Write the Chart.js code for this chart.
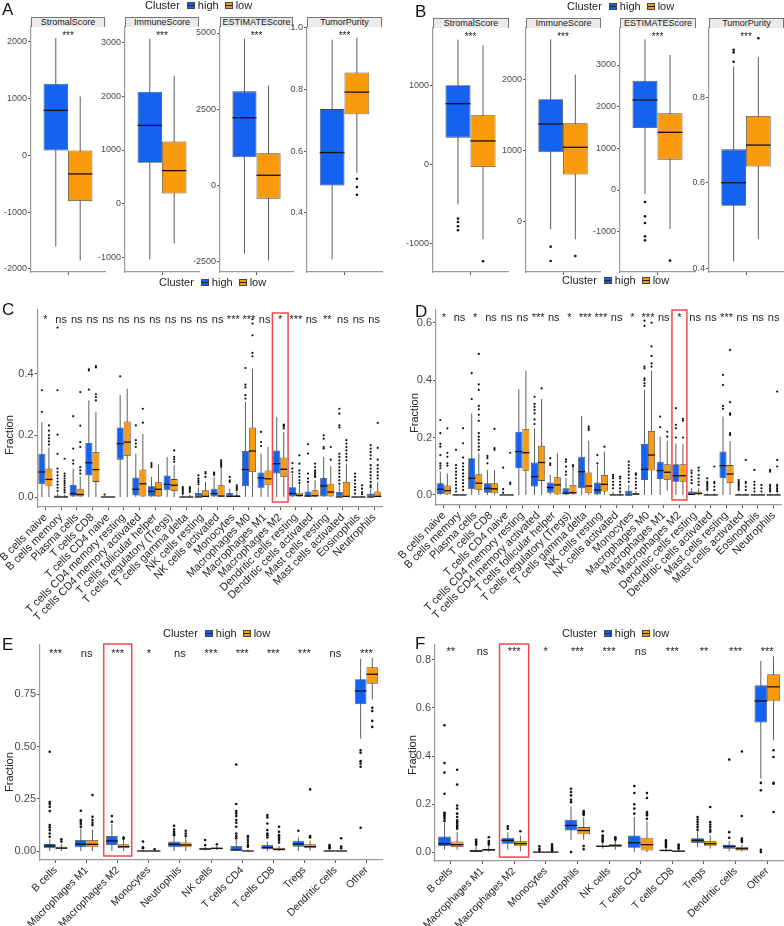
<!DOCTYPE html>
<html>
<head>
<meta charset="utf-8">
<script src="https://cdn.jsdelivr.net/npm/chart.js@4.4.1/dist/chart.umd.min.js"></script>
<style>
  body { margin: 0; width: 784px; height: 926px; position: relative; overflow: hidden; background: #fff;
         font-family: 'Liberation Sans', Arial, sans-serif; }
  canvas { position: absolute; }
  .tag { position: absolute; font-size: 17px; line-height: 17px; color: #111; }
  .legend { position: absolute; font-size: 11px; line-height: 12px; color: #222; display: flex; align-items: center; white-space: nowrap; }
  .key { display: inline-block; width: 6px; height: 5px; border: 1px solid #444; margin-right: 3px; }
  .strip { position: absolute; height: 10px; background: #ebebeb; border: 1px solid #777; border-bottom: none;
           box-sizing: border-box; font-size: 9px; line-height: 9px; text-align: center; color: #1a1a1a; }
  .ytitle { position: absolute; font-size: 11px; color: #222; white-space: nowrap; transform: translate(-50%, -50%) rotate(-90deg); }
</style>
</head>
<body>
<script>
// ---- data: each stats row is [min, q1, median, q3, max] ----

// panel A (ESTIMATE, cohort 1)
const aScores = ['StromalScore', 'ImmuneScore', 'ESTIMATEScore', 'TumorPurity'];
const aHigh = [[-1605, 90, 795, 1265, 2070], [-1045, 760, 1460, 2090, 3080], [-2225, 930, 2225, 3090, 4815], [0.25, 0.489, 0.596, 0.737, 0.962]];
const aLow = [[-1850, -805, -325, 90, 1040], [-745, 185, 615, 1160, 2385], [-2445, -425, 340, 1060, 3285], [0.53, 0.72, 0.792, 0.856, 0.968]];
const aHighOut = [[], [], [], []];
const aLowOut = [[], [], [], [0.511, 0.484, 0.459]];
const aSig = ['***', '***', '***', '***'];
const aTicks = [[-2000, -1000, 0, 1000, 2000], [-1000, 0, 1000, 2000, 3000], [-2500, 0, 2500, 5000], [0.4, 0.6, 0.8, 1.0]];

// panel B (ESTIMATE, cohort 2)
const bScores = ['StromalScore', 'ImmuneScore', 'ESTIMATEScore', 'TumorPurity'];
const bHigh = [[-505, 343, 775, 1010, 1590], [-103, 977, 1374, 1720, 2561], [-96, 1488, 2160, 2624, 3616], [0.416, 0.546, 0.600, 0.678, 0.872]];
const bLow = [[-949, -30, 301, 627, 1517], [-243, 664, 1047, 1383, 2065], [-936, 728, 1384, 1840, 3240], [0.468, 0.638, 0.688, 0.756, 0.894]];
const bHighOut = [[-686, -729, -784, -835], [-346, -547], [-288, -632, -792, -1112, -1208], [0.911, 0.905, 0.883]];
const bLowOut = [[-1229], [-477], [-1696], [0.938]];
const bSig = ['***', '***', '***', '***'];
const bTicks = [[-1000, 0, 1000], [0, 1000, 2000], [-1000, 0, 1000, 2000, 3000], [0.4, 0.6, 0.8]];

// panels C and D (CIBERSORT, 22 cell types)
const cells22 = ['B cells naive', 'B cells memory', 'Plasma cells', 'T cells CD8', 'T cells CD4 naive',
  'T cells CD4 memory resting', 'T cells CD4 memory activated', 'T cells follicular helper',
  'T cells regulatory (Tregs)', 'T cells gamma delta', 'NK cells resting', 'NK cells activated', 'Monocytes',
  'Macrophages M0', 'Macrophages M1', 'Macrophages M2', 'Dendritic cells resting', 'Dendritic cells activated',
  'Mast cells resting', 'Mast cells activated', 'Eosinophils', 'Neutrophils'];
const fracTicks = [0, 0.2, 0.4, 0.6];

const cHigh = [[0, 0.041, 0.081, 0.14, 0.243], [0, 0, 0, 0.005, 0.012], [0, 0, 0.011, 0.04, 0.092], [0, 0.07, 0.111, 0.175, 0.313],
  [0, 0, 0, 0, 0], [0, 0.121, 0.173, 0.225, 0.33], [0, 0.005, 0.025, 0.063, 0.14], [0, 0, 0.018, 0.035, 0.065],
  [0, 0.022, 0.041, 0.07, 0.13], [0, 0, 0, 0.002, 0.008], [0, 0, 0, 0.013, 0.032], [0, 0, 0.011, 0.027, 0.065],
  [0, 0, 0.002, 0.013, 0.027], [0, 0.035, 0.089, 0.149, 0.308], [0, 0.03, 0.062, 0.079, 0.14], [0, 0.076, 0.108, 0.151, 0.259],
  [0, 0, 0.011, 0.032, 0.075], [0, 0, 0.003, 0.018, 0.043], [0, 0, 0.036, 0.062, 0.13], [0, 0, 0, 0.016, 0.038],
  [0, 0, 0, 0, 0.002], [0, 0, 0, 0.011, 0.027]];
const cLow = [[0, 0.035, 0.057, 0.092, 0.16], [0, 0, 0, 0.003, 0.008], [0, 0.002, 0.008, 0.027, 0.065], [0, 0.049, 0.089, 0.146, 0.276],
  [0, 0, 0, 0, 0], [0, 0.133, 0.178, 0.245, 0.351], [0, 0, 0.043, 0.089, 0.205], [0, 0.002, 0.025, 0.048, 0.106],
  [0, 0.019, 0.038, 0.058, 0.103], [0, 0, 0, 0.002, 0.008], [0, 0, 0.002, 0.022, 0.049], [0, 0, 0.003, 0.038, 0.092],
  [0, 0, 0.002, 0.006, 0.016], [0, 0.081, 0.149, 0.225, 0.416], [0, 0.038, 0.059, 0.086, 0.162], [0, 0.065, 0.09, 0.128, 0.21],
  [0, 0, 0.005, 0.014, 0.04], [0, 0, 0.004, 0.022, 0.054], [0, 0, 0.016, 0.043, 0.1], [0, 0, 0.002, 0.049, 0.108],
  [0, 0, 0, 0, 0.002], [0, 0, 0.002, 0.018, 0.049]];
const cHighOut = [[0.346, 0.276], [0.549, 0.346, 0.202, 0.14, 0.092, 0.081, 0.07, 0.06, 0.05, 0.04, 0.03, 0.02],
  [0.262, 0.157, 0.119, 0.108], [0.414, 0.41, 0.348], [0.008], [0.391], [0.232, 0.184, 0.173, 0.162], [0.11, 0.103, 0.097],
  [], [0.032, 0.027, 0.022, 0.016, 0.011], [0.07, 0.06, 0.054, 0.048, 0.041], [0.079, 0.076, 0.072],
  [0.065, 0.054, 0.049], [0.418, 0.364, 0.355, 0.33, 0.319], [0.211, 0.178, 0.165], [],
  [0.11, 0.092, 0.081], [0.171, 0.141, 0.076, 0.06, 0.049], [0.2, 0.189, 0.162, 0.157],
  [0.286, 0.27, 0.232, 0.225, 0.14, 0.13, 0.119, 0.108, 0.097, 0.086, 0.076, 0.065, 0.054, 0.043],
  [0.076, 0.065, 0.054, 0.043, 0.032, 0.022, 0.011],
  [0.168, 0.157, 0.146, 0.135, 0.124, 0.103, 0.092, 0.081, 0.07, 0.06, 0.049, 0.038, 0.032]];
const cLowOut = [[0.232, 0.215, 0.2, 0.19, 0.18, 0.17], [0.124, 0.076, 0.068, 0.06, 0.052, 0.045, 0.038, 0.03, 0.022, 0.015],
  [0.34, 0.231, 0.178, 0.162, 0.097, 0.086, 0.076], [0.424, 0.42, 0.333, 0.324, 0.313], [], [], [0.286, 0.241], [],
  [0.151, 0.13, 0.122, 0.114], [0.032, 0.027, 0.022, 0.016], [0.081, 0.076, 0.065], [0.119, 0.113, 0.108, 0.103, 0.097],
  [0.038, 0.032, 0.027, 0.022], [0.576, 0.562, 0.524, 0.467, 0.456], [], [0.235, 0.232, 0.228, 0.222],
  [0.135, 0.108, 0.086, 0.076, 0.065, 0.054, 0.045], [0.108, 0.097, 0.086, 0.081, 0.076, 0.07, 0.065],
  [0.162, 0.121], [0.184, 0.173, 0.162, 0.151, 0.14, 0.13, 0.119], [0.038, 0.027, 0.016, 0.009],
  [0.24, 0.159, 0.121, 0.103, 0.092, 0.081, 0.07, 0.06]];
const cSig = ['*', 'ns', 'ns', 'ns', 'ns', 'ns', 'ns', 'ns', 'ns', 'ns', 'ns', 'ns', '***', '***', 'ns', '*', '***', 'ns', '**', 'ns', 'ns', 'ns'];

const dHigh = [[0, 0.003, 0.02, 0.041, 0.081], [0, 0, 0, 0, 0.003], [0, 0.02, 0.058, 0.128, 0.284], [0, 0.008, 0.023, 0.041, 0.087],
  [0, 0, 0, 0, 0], [0, 0.093, 0.151, 0.22, 0.368], [0, 0.029, 0.064, 0.113, 0.232], [0, 0.008, 0.026, 0.043, 0.07],
  [0, 0, 0.006, 0.023, 0.058], [0, 0.023, 0.081, 0.133, 0.275], [0, 0, 0.017, 0.043, 0.104], [0, 0, 0, 0, 0.012],
  [0, 0, 0, 0.015, 0.035], [0, 0.052, 0.089, 0.178, 0.366], [0, 0.055, 0.085, 0.116, 0.203], [0, 0.046, 0.067, 0.107, 0.18],
  [0, 0, 0.002, 0.012, 0.023], [0, 0, 0, 0, 0.005], [0, 0.058, 0.102, 0.151, 0.273], [0, 0, 0, 0, 0.005],
  [0, 0, 0, 0, 0.004], [0, 0, 0, 0, 0.005]];
const dLow = [[0, 0, 0.015, 0.033, 0.075], [0, 0, 0, 0, 0.003], [0, 0.017, 0.041, 0.072, 0.145], [0, 0.006, 0.021, 0.041, 0.087],
  [0, 0, 0, 0, 0], [0, 0.084, 0.147, 0.23, 0.433], [0, 0.049, 0.113, 0.171, 0.334], [0, 0, 0.035, 0.062, 0.145],
  [0, 0.002, 0.008, 0.035, 0.095], [0, 0.006, 0.031, 0.078, 0.189], [0, 0.012, 0.037, 0.07, 0.151], [0, 0, 0, 0, 0.01],
  [0, 0, 0.003, 0.006, 0.014], [0, 0.085, 0.139, 0.223, 0.433], [0.015, 0.052, 0.079, 0.107, 0.189], [0, 0.046, 0.067, 0.107, 0.178],
  [0, 0.002, 0.005, 0.012, 0.023], [0, 0, 0, 0, 0.005], [0, 0.041, 0.073, 0.104, 0.188], [0, 0, 0, 0, 0.005],
  [0, 0, 0, 0, 0.004], [0, 0, 0, 0, 0.005]];
const dHighOut = [[0.261, 0.215, 0.178, 0.168, 0.139, 0.11, 0.102, 0.093], [0.157, 0.104, 0.093, 0.081, 0.07, 0.058, 0.046, 0.035, 0.023, 0.012],
  [0.424, 0.334], [0.136, 0.128, 0.11], [0.095, 0.02, 0.008], [], [0.342, 0.317, 0.307, 0.296, 0.284, 0.263, 0.247],
  [0.128, 0.11, 0.104], [0.124, 0.116, 0.099, 0.081, 0.07], [], [0.139, 0.11], [0.07, 0.064, 0.058, 0.046, 0.035, 0.023],
  [0.116, 0.104, 0.093, 0.081, 0.07, 0.058, 0.046], [0.607, 0.589, 0.447, 0.441, 0.406, 0.4, 0.389, 0.38], [0.273, 0.236],
  [0.302, 0.244, 0.232, 0.2], [0.085, 0.076, 0.064, 0.052, 0.041], [0.058, 0.046, 0.041, 0.035, 0.029, 0.023, 0.017],
  [0.418, 0.383, 0.31, 0.3], [0.052, 0.046, 0.041, 0.035, 0.029, 0.023, 0.017], [0.087, 0.046, 0.035, 0.023, 0.012],
  [0.087, 0.081, 0.035, 0.029, 0.023, 0.017, 0.012]];
const dLowOut = [[0.232, 0.147, 0.133, 0.11, 0.102], [0.232, 0.18, 0.13, 0.11, 0.099, 0.087, 0.075, 0.064, 0.052, 0.041, 0.029, 0.017],
  [0.491, 0.385, 0.366, 0.31, 0.298, 0.279, 0.258, 0.215, 0.203, 0.192, 0.18, 0.168, 0.157], [0.23, 0.163, 0.157],
  [0.147, 0.043, 0.038], [], [0.371], [], [0.104, 0.099], [0.238, 0.232, 0.226], [0.168], [0.064, 0.058, 0.046, 0.035, 0.023, 0.012],
  [0.075, 0.07, 0.058, 0.046, 0.035, 0.023], [0.6, 0.517, 0.484, 0.458, 0.447], [0.22, 0.203], [0.265, 0.259, 0.2],
  [0.095, 0.085, 0.07, 0.058, 0.046, 0.035], [0.099, 0.046, 0.041, 0.029, 0.017], [0.505, 0.323, 0.284, 0.279, 0.215, 0.209],
  [0.122, 0.046, 0.041, 0.029, 0.017], [0.035, 0.023, 0.012], [0.36, 0.122, 0.099, 0.035, 0.029, 0.023, 0.017, 0.012]];
const dSig = ['*', 'ns', '*', 'ns', 'ns', 'ns', '***', 'ns', '*', '***', '***', 'ns', '*', '***', 'ns', '*', 'ns', 'ns', '***', 'ns', 'ns', 'ns'];

// panels E and F (11 cell groups)
const cells11 = ['B cells', 'Macrophages M1', 'Macrophages M2', 'Monocytes', 'Neutrophils', 'NK cells',
  'T cells CD4', 'T cells CD8', 'Tregs', 'Dendritic cells', 'Other'];
const eTicks = [0, 0.25, 0.5, 0.75];
const fTicks = [0, 0.2, 0.4, 0.6, 0.8];

const eHigh = [[0, 0.013, 0.024, 0.033, 0.056], [0, 0.018, 0.033, 0.053, 0.108], [0, 0.029, 0.048, 0.072, 0.129], [0, 0, 0, 0, 0.004],
  [0, 0.018, 0.032, 0.045, 0.068], [0.002, 0.006, 0.01, 0.013, 0.021], [0, 0, 0.005, 0.024, 0.053], [0, 0.008, 0.016, 0.029, 0.045],
  [0, 0.021, 0.033, 0.049, 0.065], [0, 0, 0, 0.002, 0.008], [0.538, 0.702, 0.766, 0.822, 0.92]];
const eLow = [[0, 0.008, 0.014, 0.021, 0.033], [0, 0.018, 0.032, 0.053, 0.103], [0, 0.013, 0.021, 0.032, 0.053], [0, 0, 0, 0, 0.002],
  [0, 0.018, 0.029, 0.041, 0.065], [0.004, 0.008, 0.013, 0.016, 0.024], [0, 0, 0, 0.002, 0.008], [0, 0.003, 0.008, 0.016, 0.024],
  [0, 0.013, 0.021, 0.032, 0.049], [0, 0, 0, 0, 0.004], [0.725, 0.801, 0.846, 0.88, 0.925]];
const eHighOut = [[0.475, 0.234, 0.225, 0.212, 0.191, 0.124, 0.113, 0.1, 0.084, 0.068], [0.193, 0.148, 0.14, 0.129, 0.116],
  [0.167, 0.14], [0.045, 0.018, 0.013], [0.121, 0.103, 0.092, 0.084, 0.076], [0.053, 0.029],
  [0.414, 0.225, 0.191, 0.18, 0.167, 0.148, 0.135, 0.116, 0.084, 0.072, 0.061], [0.172, 0.161, 0.132, 0.1, 0.084, 0.076, 0.065],
  [0.097], [0.029, 0.021, 0.016, 0.013], [0.482, 0.47, 0.43, 0.419, 0.403, 0.111]];
const eLowOut = [[0.056, 0.045], [0.268, 0.164, 0.148, 0.135, 0.124], [0.065, 0.059], [0.008], [0.097, 0.084, 0.072],
  [0.032], [0.072, 0.065, 0.053, 0.041, 0.029, 0.021], [0.116, 0.092, 0.076, 0.068, 0.06, 0.053, 0.041],
  [0.295, 0.072, 0.065], [0.061, 0.021, 0.013], [0.686, 0.67, 0.623, 0.594]];
const eSig = ['***', 'ns', '***', '*', 'ns', '***', '***', '***', '***', 'ns', '***'];

const fHigh = [[0.01, 0.025, 0.035, 0.065, 0.121], [0, 0.002, 0.004, 0.01, 0.024], [0.01, 0.035, 0.049, 0.06, 0.083], [0, 0, 0, 0, 0.004],
  [0.051, 0.09, 0.111, 0.135, 0.19], [0.014, 0.021, 0.024, 0.028, 0.035], [0, 0.018, 0.039, 0.069, 0.146], [0.002, 0.004, 0.007, 0.01, 0.017],
  [0.021, 0.038, 0.049, 0.058, 0.087], [0.004, 0.014, 0.024, 0.031, 0.046], [0.306, 0.539, 0.629, 0.694, 0.796]];
const fLow = [[0.01, 0.021, 0.031, 0.044, 0.083], [0.002, 0.006, 0.01, 0.014, 0.028], [0.004, 0.024, 0.035, 0.046, 0.069], [0, 0, 0, 0, 0.004],
  [0.051, 0.074, 0.09, 0.104, 0.145], [0.01, 0.021, 0.028, 0.032, 0.046], [0, 0.007, 0.031, 0.06, 0.129], [0, 0.003, 0.004, 0.006, 0.011],
  [0.014, 0.024, 0.035, 0.046, 0.069], [0.002, 0.007, 0.014, 0.021, 0.032], [0.465, 0.628, 0.688, 0.74, 0.815]];
const fHighOut = [[0.528, 0.371, 0.331, 0.243, 0.164, 0.16, 0.153, 0.146, 0.139, 0.129], [0.051, 0.044, 0.038, 0.031],
  [0.107, 0.097], [0.024, 0.014, 0.007], [0.264, 0.25, 0.236, 0.218, 0.208, 0], [0.087, 0.069, 0.063, 0.056, 0.049, 0.042],
  [0.275, 0.246, 0.199, 0.181, 0.16], [0.049, 0.042, 0.035, 0.028, 0.021], [0.146, 0.136, 0.125, 0.115, 0.104, 0.093],
  [0.385, 0.083, 0.06], [0.288, 0.257, 0.01, 0]];
const fLowOut = [[0.343, 0.281, 0.194, 0.181, 0.16, 0.146, 0.132, 0.125, 0.118, 0.111, 0.104, 0.097], [0.062, 0.046, 0.039, 0.032],
  [0.087], [0.032, 0.025, 0.018, 0.014, 0.01, 0.007], [0.171, 0.165, 0.16, 0.155, 0.025, 0.012], [0.062, 0.057, 0.051],
  [0.246, 0.225, 0.167, 0.16, 0.153, 0.139], [0.031, 0.025, 0.018, 0.014], [0.188, 0.125, 0.115, 0.104, 0.093, 0.085],
  [0.419, 0.15, 0.056, 0.049, 0.042], [0.424, 0.396, 0.288, 0.285, 0.167]];
const fSig = ['**', 'ns', '***', '*', '***', '***', 'ns', '***', '**', '***', '***'];

// ---- drawing ----
const BLUE = '#1363f0';
const ORANGE = '#f89a0c';
Chart.defaults.font.family = "'Liberation Sans', Arial, sans-serif";

// whiskers, medians, outliers, significance marks and the red highlight
const boxParts = {
  id: 'boxParts',
  beforeDatasetsDraw(chart) {
    const ctx = chart.ctx, y = chart.scales.y;
    ctx.save();
    ctx.strokeStyle = '#5e5e5e';
    ctx.lineWidth = 1;
    chart.data.datasets.forEach((ds, d) => {
      chart.getDatasetMeta(d).data.forEach((bar, i) => {
        const s = ds.stats[i];
        ctx.beginPath();
        ctx.moveTo(bar.x, y.getPixelForValue(s[0]));
        ctx.lineTo(bar.x, y.getPixelForValue(s[4]));
        ctx.stroke();
      });
    });
    ctx.restore();
  },
  afterDatasetsDraw(chart, args, opts) {
    const ctx = chart.ctx, x = chart.scales.x, y = chart.scales.y, area = chart.chartArea;
    ctx.save();
    chart.data.datasets.forEach((ds, d) => {
      chart.getDatasetMeta(d).data.forEach((bar, i) => {
        const s = ds.stats[i];
        ctx.strokeStyle = '#111';
        ctx.lineWidth = 1.3;
        ctx.beginPath();
        ctx.moveTo(bar.x - bar.width / 2, y.getPixelForValue(s[2]));
        ctx.lineTo(bar.x + bar.width / 2, y.getPixelForValue(s[2]));
        ctx.stroke();
        ctx.fillStyle = '#111';
        ds.outliers[i].forEach(v => {
          ctx.beginPath();
          ctx.arc(bar.x, y.getPixelForValue(v), opts.r, 0, Math.PI * 2);
          ctx.fill();
        });
      });
    });
    ctx.fillStyle = '#222';
    ctx.font = opts.sigSize + "px 'Liberation Sans', Arial, sans-serif";
    ctx.textAlign = 'center';
    ctx.textBaseline = 'alphabetic';
    opts.sig.forEach((t, i) => ctx.fillText(t, x.getPixelForValue(i), area.top + opts.sigBase));
    if (opts.hl >= 0) {
      const step = chart.data.labels.length > 1 ? x.getPixelForValue(1) - x.getPixelForValue(0) : 0;
      const cx = x.getPixelForValue(opts.hl), hw = step * opts.hlWidth / 2;
      const top = area.top + opts.hlTop, bottom = y.getPixelForValue(0) + 5;
      ctx.strokeStyle = '#f0484b';
      ctx.lineWidth = 1.5;
      ctx.strokeRect(cx - hw, top, hw * 2, bottom - top);
    }
    ctx.restore();
  }
};

function boxChart(o) {
  const canvas = document.createElement('canvas');
  const w = o.yWidth + (o.right - o.left) + o.padRight;
  const h = o.padTop + (o.bottom - o.top) + o.xHeight;
  canvas.width = w;
  canvas.height = h;
  canvas.style.left = (o.left - o.yWidth) + 'px';
  canvas.style.top = (o.top - o.padTop) + 'px';
  document.body.appendChild(canvas);
  const tickFont = o.tickSize || 11;
  return new Chart(canvas, {
    type: 'bar',
    data: {
      labels: o.labels,
      datasets: [
        { label: 'high', data: o.high.map(s => [s[1], s[3]]), stats: o.high, outliers: o.highOut,
          backgroundColor: BLUE, borderColor: '#4a4a4a', borderWidth: 0.8, borderSkipped: false },
        { label: 'low', data: o.low.map(s => [s[1], s[3]]), stats: o.low, outliers: o.lowOut,
          backgroundColor: ORANGE, borderColor: '#4a4a4a', borderWidth: 0.8, borderSkipped: false }
      ]
    },
    options: {
      responsive: false,
      animation: false,
      layout: { padding: { top: o.padTop, right: o.padRight, left: 0, bottom: 0 } },
      datasets: { bar: { categoryPercentage: o.catPct, barPercentage: 1 } },
      plugins: {
        legend: { display: false },
        tooltip: { enabled: false },
        boxParts: { sig: o.sig, sigBase: o.sigBase, sigSize: o.sigSize || 10, hl: o.hl === undefined ? -1 : o.hl,
                    hlWidth: o.hlWidth || 1, hlTop: o.hlTop || 0, r: o.r || 1.3 }
      },
      scales: {
        x: {
          offset: true,
          grid: { offset: false, drawOnChartArea: false, color: '#555', tickLength: 3 },
          border: { color: '#9a9a9a', width: 1.2 },
          ticks: { display: o.showLabels, autoSkip: false, minRotation: 45, maxRotation: 45, padding: 1,
                   color: '#1e1e1e', font: { size: o.xFont || 10 } },
          afterFit: s => { s.height = o.xHeight; }
        },
        y: {
          min: o.yMin,
          max: o.yMax,
          afterBuildTicks: s => { s.ticks = o.ticks.map(v => ({ value: v })); },
          grid: { drawOnChartArea: false, color: '#555', tickLength: 3 },
          border: { color: '#9a9a9a', width: 1.2 },
          ticks: { callback: v => v.toFixed(o.dec), padding: 1, color: '#4a4a4a', font: { size: tickFont } },
          afterFit: s => { s.width = o.yWidth; }
        }
      }
    },
    plugins: [boxParts]
  });
}

function addDiv(cls, text, css) {
  const el = document.createElement('div');
  el.className = cls;
  el.textContent = text;
  Object.assign(el.style, css);
  document.body.appendChild(el);
  return el;
}

function legend(left, cy) {
  const el = addDiv('legend', '', { left: left + 'px', top: (cy - 6) + 'px' });
  const part = (t, mr) => { const s = document.createElement('span'); s.textContent = t; s.style.marginRight = mr + 'px'; el.appendChild(s); };
  const key = c => { const k = document.createElement('span'); k.className = 'key';
    k.style.background = `linear-gradient(${c} 40%, #222 40%, #222 60%, ${c} 60%)`; el.appendChild(k); };
  part('Cluster', 7); key(BLUE); part('high', 6); key(ORANGE); part('low', 0);
}

// panel A and B sub-plots
const aBoxes = [
  { left: 31, right: 105, yWidth: 31, yMin: -2053, yMax: 2264, dec: 0 },
  { left: 125, right: 199, yWidth: 28, yMin: -1280, yMax: 3299, dec: 0 },
  { left: 220, right: 293, yWidth: 28, yMin: -2828, yMax: 5197, dec: 0 },
  { left: 307, right: 382, yWidth: 22, yMin: 0.2086, yMax: 1.0032, dec: 1 }
];
aBoxes.forEach((p, i) => {
  boxChart(Object.assign({ top: 27, bottom: 272, padTop: 9, padRight: 2, xHeight: 8, labels: [''], showLabels: false,
    high: [aHigh[i]], low: [aLow[i]], highOut: [aHighOut[i]], lowOut: [aLowOut[i]], sig: [aSig[i]], sigBase: 12,
    ticks: aTicks[i], catPct: 0.66, tickSize: 9, r: 1.3 }, p));
  addDiv('strip', aScores[i], { left: p.left + 'px', top: '17px', width: (p.right - p.left) + 'px' });
});

const bBoxes = [
  { left: 433, right: 508, yWidth: 40, yMin: -1365, yMax: 1737, dec: 0 },
  { left: 526, right: 600, yWidth: 28, yMin: -701, yMax: 2719, dec: 0 },
  { left: 620, right: 695, yWidth: 40, yMin: -1968, yMax: 3888, dec: 0 },
  { left: 709, right: 783, yWidth: 24, yMin: 0.391, yMax: 0.962, dec: 1 }
];
bBoxes.forEach((p, i) => {
  boxChart(Object.assign({ top: 28, bottom: 272, padTop: 9, padRight: 1, xHeight: 8, labels: [''], showLabels: false,
    high: [bHigh[i]], low: [bLow[i]], highOut: [bHighOut[i]], lowOut: [bLowOut[i]], sig: [bSig[i]], sigBase: 12,
    ticks: bTicks[i], catPct: 0.667, tickSize: 9, r: 1.3 }, p));
  addDiv('strip', bScores[i], { left: p.left + 'px', top: '18px', width: (p.right - p.left + 1) + 'px' });
});

// panels C and D
boxChart({ left: 33, right: 382, top: 310, bottom: 507, yWidth: 33, padTop: 8, padRight: 5, xHeight: 118,
  labels: cells22, showLabels: true, xFont: 11, high: cHigh, low: cLow, highOut: cHighOut, lowOut: cLowOut,
  yMin: -0.0324, yMax: 0.606, ticks: fracTicks.slice(0, 3), dec: 1, catPct: 0.9, sig: cSig, sigBase: 13, sigSize: 11,
  hl: 15, hlWidth: 1.0, hlTop: 3, r: 1.1 });
boxChart({ left: 436, right: 783, top: 310, bottom: 505, yWidth: 44, padTop: 8, padRight: 1, xHeight: 118,
  labels: cells22, showLabels: true, xFont: 11, high: dHigh, low: dLow, highOut: dHighOut, lowOut: dLowOut,
  yMin: -0.035, yMax: 0.644, ticks: fracTicks, dec: 1, catPct: 0.9, sig: dSig, sigBase: 11, sigSize: 11,
  hl: 15, hlWidth: 0.95, hlTop: 0, r: 1.1 });

// panels E and F
boxChart({ left: 40, right: 382, top: 645, bottom: 860, yWidth: 40, padTop: 8, padRight: 5, xHeight: 66,
  labels: cells11, showLabels: true, xFont: 10.5, high: eHigh, low: eLow, highOut: eHighOut, lowOut: eLowOut,
  yMin: -0.043, yMax: 0.986, ticks: eTicks, dec: 2, catPct: 0.75, sig: eSig, sigBase: 12, sigSize: 11,
  hl: 2, hlWidth: 0.9, hlTop: -1, r: 1.3 });
boxChart({ left: 435, right: 783, top: 645, bottom: 861, yWidth: 43, padTop: 8, padRight: 1, xHeight: 65,
  labels: cells11, showLabels: true, xFont: 10.5, high: fHigh, low: fLow, highOut: fHighOut, lowOut: fLowOut,
  yMin: -0.037, yMax: 0.862, ticks: fTicks, dec: 1, catPct: 0.8, sig: fSig, sigBase: 10, sigSize: 11,
  hl: 2, hlWidth: 0.92, hlTop: -1, r: 1.3 });

// text around the charts
addDiv('tag', 'A', { left: '2px', top: '1px' });
addDiv('tag', 'B', { left: '415px', top: '3px' });
addDiv('tag', 'C', { left: '2px', top: '301px' });
addDiv('tag', 'D', { left: '415px', top: '303px' });
addDiv('tag', 'E', { left: '2px', top: '636px' });
addDiv('tag', 'F', { left: '415px', top: '635px' });

legend(145, 5);
legend(159, 282);
legend(567, 6);
legend(562, 280);
legend(163, 633);
legend(562, 633);

addDiv('ytitle', 'Fraction', { left: '9px', top: '435px' });
addDiv('ytitle', 'Fraction', { left: '414px', top: '413px' });
addDiv('ytitle', 'Fraction', { left: '9px', top: '772px' });
addDiv('ytitle', 'Fraction', { left: '412px', top: '755px' });
</script>
</body>
</html>
